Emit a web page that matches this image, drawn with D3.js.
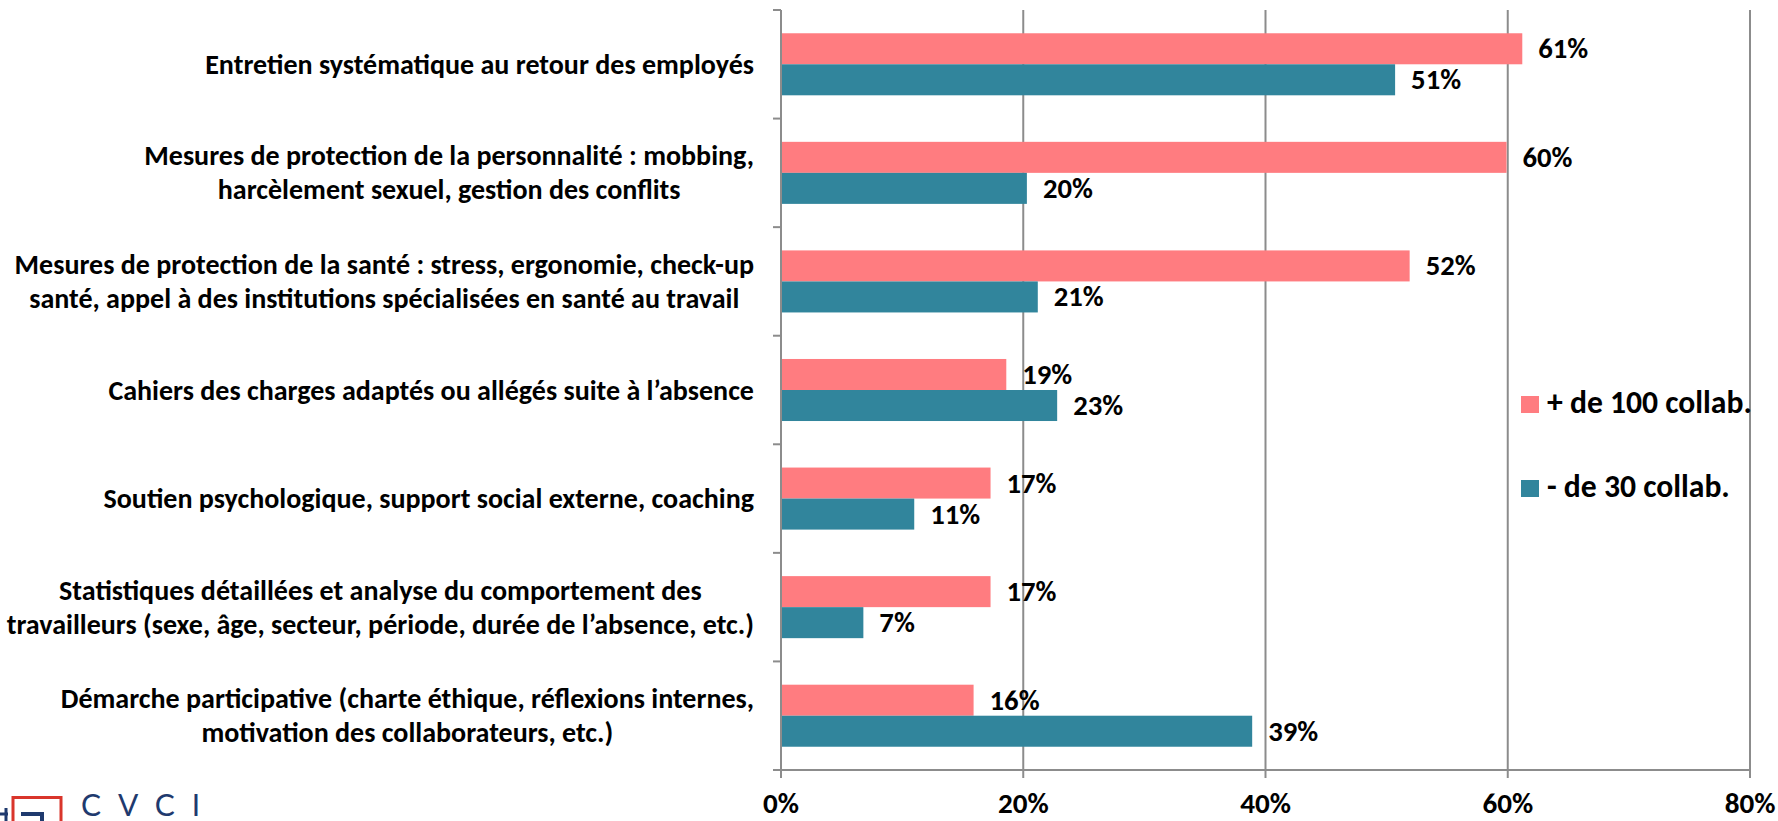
<!DOCTYPE html>
<html>
<head>
<meta charset="utf-8">
<script src="https://cdn.jsdelivr.net/npm/d3@7"></script>
<style>
  html, body { margin: 0; padding: 0; background: #fff; overflow: hidden; }
  svg { display: block; }
  text { font-family: Carlito, Calibri, Lato, "Noto Sans", sans-serif; font-weight: bold; fill: #000; }
</style>
</head>
<body>
<svg id="chart" width="1778" height="821"></svg>
<script>
// ---- data ----
const categories = [
  ["Entretien systématique au retour des employés"],
  ["Mesures de protection de la personnalité : mobbing,", "harcèlement sexuel, gestion des conflits"],
  ["Mesures de protection de la santé : stress, ergonomie, check-up", "santé, appel à des institutions spécialisées en santé au travail"],
  ["Cahiers des charges adaptés ou allégés suite à l’absence"],
  ["Soutien psychologique, support social externe, coaching"],
  ["Statistiques détaillées et analyse du comportement des", "travailleurs (sexe, âge, secteur, période, durée de l’absence, etc.)"],
  ["Démarche participative (charte éthique, réflexions internes,", "motivation des collaborateurs, etc.)"]
];
const seriesNames = ["+ de 100 collab.", "- de 30 collab."];
const plus100 = [61.2, 59.9, 51.9, 18.6, 17.3, 17.3, 15.9];
const minus30 = [50.7, 20.3, 21.2, 22.8, 11.0, 6.8, 38.9];
const xTicks = [0, 20, 40, 60, 80];
const colors = ["#FF7C80", "#31859C"];

(function () {
// ---- layout ----
const svg = d3.select("#chart");
const pLeft = 781, pRight = 1750, pTop = 10, pBottom = 770;
const gridColor = "#8c8c8c";

const x = d3.scaleLinear().domain([0, 80]).range([pLeft, pRight]);
const catIdx = d3.range(categories.length);
const y = d3.scaleBand().domain(catIdx).range([pTop, pBottom]).paddingInner(0).paddingOuter(0);
const ySub = d3.scaleBand().domain([0, 1]).range([0, y.bandwidth()]).paddingInner(0).paddingOuter(0.75);

// font fitting helper: choose size so a sample string reaches a target width
function fitSize(sample, target) {
  const t = svg.append("text").attr("font-size", 100).text(sample);
  const w = t.node().getComputedTextLength();
  t.remove();
  return 100 * target / w;
}
const catSize = fitSize("Entretien systématique au retour des employés", 549);
const valSize = fitSize("61%", 50);
const legSize = fitSize("+ de 100 collab.", 205);
const axSize = fitSize("0%", 36);

// gridlines
svg.append("g").selectAll("line").data(xTicks.filter(d => d > 0)).join("line")
  .attr("x1", d => x(d)).attr("x2", d => x(d))
  .attr("y1", pTop).attr("y2", pBottom)
  .attr("stroke", gridColor).attr("stroke-width", 2);

// bars
const data = catIdx.map(i => [plus100[i], minus30[i]]);
const groups = svg.append("g").selectAll("g").data(data).join("g")
  .attr("transform", (d, i) => `translate(0,${y(i)})`);
groups.selectAll("rect").data(d => d).join("rect")
  .attr("x", x(0)).attr("y", (d, j) => ySub(j))
  .attr("width", d => x(d) - x(0)).attr("height", ySub.bandwidth())
  .attr("fill", (d, j) => colors[j]);
groups.selectAll("text").data(d => d).join("text")
  .attr("x", d => x(d) + 16).attr("y", (d, j) => ySub(j) + ySub.bandwidth() / 2)
  .attr("dominant-baseline", "central")
  .attr("font-size", valSize)
  .text(d => Math.round(d) + "%");

// y axis
const yAxis = svg.append("g");
yAxis.append("line").attr("x1", pLeft).attr("x2", pLeft).attr("y1", pTop).attr("y2", pBottom + 8)
  .attr("stroke", gridColor).attr("stroke-width", 2);
yAxis.selectAll("line.tick").data(d3.range(categories.length + 1)).join("line")
  .attr("class", "tick")
  .attr("x1", pLeft - 8).attr("x2", pLeft)
  .attr("y1", d => pTop + d * y.step()).attr("y2", d => pTop + d * y.step())
  .attr("stroke", gridColor).attr("stroke-width", 2);

// category labels: centered text block whose right edge sits 27px left of the axis
const lineH = 34;
const labelRight = pLeft - 27;
svg.append("g").selectAll("text").data(categories).join("text")
  .attr("text-anchor", "middle")
  .attr("font-size", catSize)
  .each(function (lines, i) {
    const t = d3.select(this);
    const spans = lines.map((ln, k) =>
      t.append("tspan")
        .attr("y", (k - (lines.length - 1) / 2) * lineH)
        .attr("dominant-baseline", "central")
        .text(ln));
    const maxW = d3.max(spans, s => s.node().getComputedTextLength());
    spans.forEach(s => s.attr("x", 0));
    t.attr("transform", `translate(${labelRight - maxW / 2},${y(i) + y.bandwidth() / 2})`);
  });

// x axis
const xAxis = svg.append("g");
xAxis.append("line").attr("x1", pLeft - 8).attr("x2", pRight).attr("y1", pBottom).attr("y2", pBottom)
  .attr("stroke", gridColor).attr("stroke-width", 2);
xAxis.selectAll("line.tick").data(xTicks).join("line")
  .attr("class", "tick")
  .attr("x1", d => x(d)).attr("x2", d => x(d))
  .attr("y1", pBottom).attr("y2", pBottom + 8)
  .attr("stroke", gridColor).attr("stroke-width", 2);
xAxis.selectAll("text").data(xTicks).join("text")
  .attr("x", d => x(d)).attr("y", 813)
  .attr("text-anchor", "middle")
  .attr("font-size", axSize)
  .text(d => d + "%");

// legend
const legend = svg.append("g").attr("transform", "translate(1521,0)");
const legY = [413, 497];
legend.selectAll("rect").data(seriesNames).join("rect")
  .attr("x", 0).attr("y", (d, i) => legY[i] - 17)
  .attr("width", 18).attr("height", 17)
  .attr("fill", (d, i) => colors[i]);
legend.selectAll("text").data(seriesNames).join("text")
  .attr("x", 26).attr("y", (d, i) => legY[i])
  .attr("font-size", legSize)
  .text(d => d);

// logo (bottom-left)
const logo = svg.append("g");
logo.append("rect").attr("x", 13).attr("y", 797.5).attr("width", 48).attr("height", 40)
  .attr("fill", "none").attr("stroke", "#d9352b").attr("stroke-width", 3);
logo.append("path").attr("d", "M21,814 L42,814 L42,830").attr("fill", "none")
  .attr("stroke", "#1f3a6e").attr("stroke-width", 4);
logo.append("path").attr("d", "M0,814 L8,814 M6,808 L6,821").attr("fill", "none")
  .attr("stroke", "#1f3a6e").attr("stroke-width", 3);
logo.append("text").attr("x", 81).attr("y", 816)
  .style("font-family", "Lato, 'Open Sans', sans-serif").style("font-weight", "normal")
  .style("fill", "#1f3a6e")
  .attr("font-size", 30).attr("letter-spacing", 17)
  .text("CVCI");
})();
</script>
</body>
</html>
